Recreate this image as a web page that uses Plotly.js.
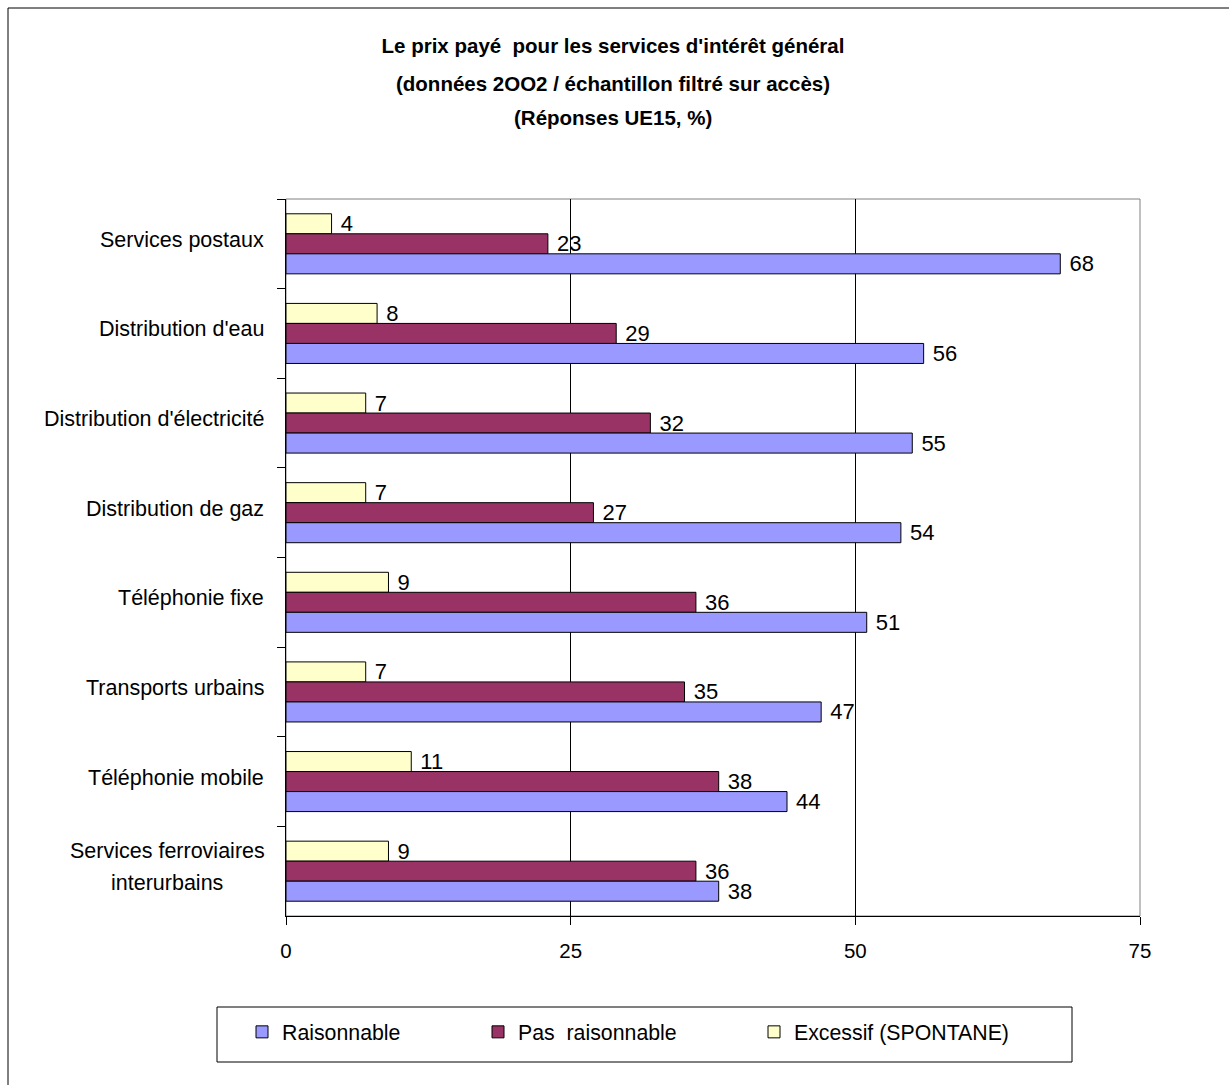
<!DOCTYPE html>
<html>
<head>
<meta charset="utf-8">
<script src="https://cdn.plot.ly/plotly-3.0.1.min.js"></script>
<style>html,body{margin:0;padding:0;background:#fff;}#chart{width:1229px;height:1085px;}</style>
</head>
<body>
<div id="chart"></div>
<script>
// ---- Data ----
const categories = [
  "Services postaux",
  "Distribution d'eau",
  "Distribution d'électricité",
  "Distribution de gaz",
  "Téléphonie fixe",
  "Transports urbains",
  "Téléphonie mobile",
  "Services ferroviaires\ninterurbains"
];
const raisonnable    = [68, 56, 55, 54, 51, 47, 44, 38];
const pasRaisonnable = [23, 29, 32, 27, 36, 35, 38, 36];
const excessif       = [4, 8, 7, 7, 9, 7, 11, 9];
const seriesNames = ["Raisonnable", "Pas  raisonnable", "Excessif (SPONTANE)"];
const xTicks = [0, 25, 50, 75];
const titleLines = [
  "Le prix payé  pour les services d'intérêt général",
  "(données 2OO2 / échantillon filtré sur accès)",
  "(Réponses UE15, %)"
];

// ---- Layout geometry (pixels) ----
const W = 1229, H = 1085;
const PL = 286, PR = 1140, PT = 199, PB = 916;
const pw = PR - PL, ph = PB - PT;
const px = v => (v - PL) / pw;
const py = v => (PB - v) / ph;

const FONT = "Liberation Sans, Arial, sans-serif";
const fsLab = 21.5, fsVal = 22, fsTick = 20.5, fsTitle = 20.5, fsLeg = 21.3;

function barTrace(name, vals, color, legendId) {
  return {
    type: "bar",
    orientation: "h",
    name: name,
    legend: legendId,
    x: vals,
    y: categories,
    marker: { color: color, line: { color: "#000", width: 1 } },
    text: vals.map(v => "\u00a0" + v),
    textposition: "outside",
    constraintext: "none",
    textfont: { family: FONT, size: fsVal, color: "#000" },
    cliponaxis: false,
    hoverinfo: "x+name"
  };
}

const data = [
  barTrace(seriesNames[2], excessif, "#FFFFCC", "legend3"),
  barTrace(seriesNames[1], pasRaisonnable, "#993366", "legend2"),
  barTrace(seriesNames[0], raisonnable, "#9999FF", "legend")
];

const annotations = [];
// title lines 2 and 3
[[titleLines[1], 83], [titleLines[2], 117]].forEach(([t, yy]) => {
  annotations.push({
    text: "<b>" + t + "</b>", xref: "paper", yref: "paper",
    x: px(613), y: py(yy), xanchor: "center", yanchor: "middle",
    showarrow: false, font: { family: FONT, size: fsTitle, color: "#000" }
  });
});
// category labels
categories.forEach(c => {
  const lines = c.split("\n");
  if (lines.length === 1) {
    annotations.push({
      text: c, xref: "paper", yref: "y", x: px(266), y: c,
      xanchor: "right", yanchor: "middle", yshift: 4,
      showarrow: false, font: { family: FONT, size: fsLab, color: "#000" }
    });
  } else {
    lines.forEach((ln, i) => {
      annotations.push({
        text: ln, xref: "paper", yref: "y", x: px(167), y: c,
        xanchor: "center", yanchor: "middle",
        yshift: 4 + 16 * (lines.length - 1) - 32 * i,
        showarrow: false, font: { family: FONT, size: fsLab, color: "#000" }
      });
    });
  }
});

const shapes = [
  // outer chart border
  { type: "rect", xref: "paper", yref: "paper", x0: px(8), x1: px(1240), y0: py(1095), y1: py(8),
    line: { color: "#000", width: 1 }, layer: "below" },
  // plot area border (grey)
  { type: "rect", xref: "paper", yref: "paper", x0: 0, x1: 1, y0: 0, y1: 1,
    line: { color: "#808080", width: 1 }, layer: "below" },
  // legend box
  { type: "rect", xref: "paper", yref: "paper", x0: px(217), x1: px(1072), y0: py(1062), y1: py(1007),
    line: { color: "#000", width: 1 }, layer: "below" }
];

function legendAt(xpix) {
  return {
    orientation: "h",
    x: px(xpix), y: py(1032), xanchor: "left", yanchor: "middle",
    xref: "paper", yref: "paper",
    bgcolor: "rgba(0,0,0,0)", borderwidth: 0,
    font: { family: FONT, size: fsLeg, color: "#000" }
  };
}

const layout = {
  width: W, height: H,
  margin: { l: PL, r: W - PR, t: PT, b: H - PB, pad: 0 },
  paper_bgcolor: "#fff", plot_bgcolor: "rgba(0,0,0,0)",
  font: { family: FONT, size: fsTick, color: "#000" },
  title: {
    text: "<b>" + titleLines[0] + "</b>",
    xref: "container", yref: "container",
    x: 613 / W, y: 1 - 46 / H, xanchor: "center", yanchor: "middle",
    font: { family: FONT, size: fsTitle, color: "#000" }
  },
  barmode: "group",
  bargap: 0.33,
  bargroupgap: 0,
  xaxis: {
    range: [0, 75], tickvals: xTicks, ticktext: xTicks.map(String),
    showgrid: true, gridcolor: "#000", gridwidth: 1,
    zeroline: false, showline: true, linecolor: "#000", linewidth: 1,
    ticks: "outside", ticklen: 8, tickcolor: "#000", tickwidth: 1,
    ticklabelstandoff: 8,
    tickfont: { family: FONT, size: fsTick, color: "#000" },
    fixedrange: true
  },
  yaxis: {
    type: "category", autorange: "reversed",
    categoryorder: "array", categoryarray: categories,
    tickson: "boundaries", ticks: "outside", ticklen: 8, tickcolor: "#000", tickwidth: 1,
    showticklabels: false, showgrid: false, zeroline: false,
    showline: true, linecolor: "#000", linewidth: 1,
    fixedrange: true
  },
  showlegend: true,
  legend: legendAt(242),
  legend2: legendAt(478),
  legend3: legendAt(754),
  annotations: annotations,
  shapes: shapes
};

Plotly.newPlot("chart", data, layout, { displayModeBar: false, staticPlot: true });
</script>
</body>
</html>
